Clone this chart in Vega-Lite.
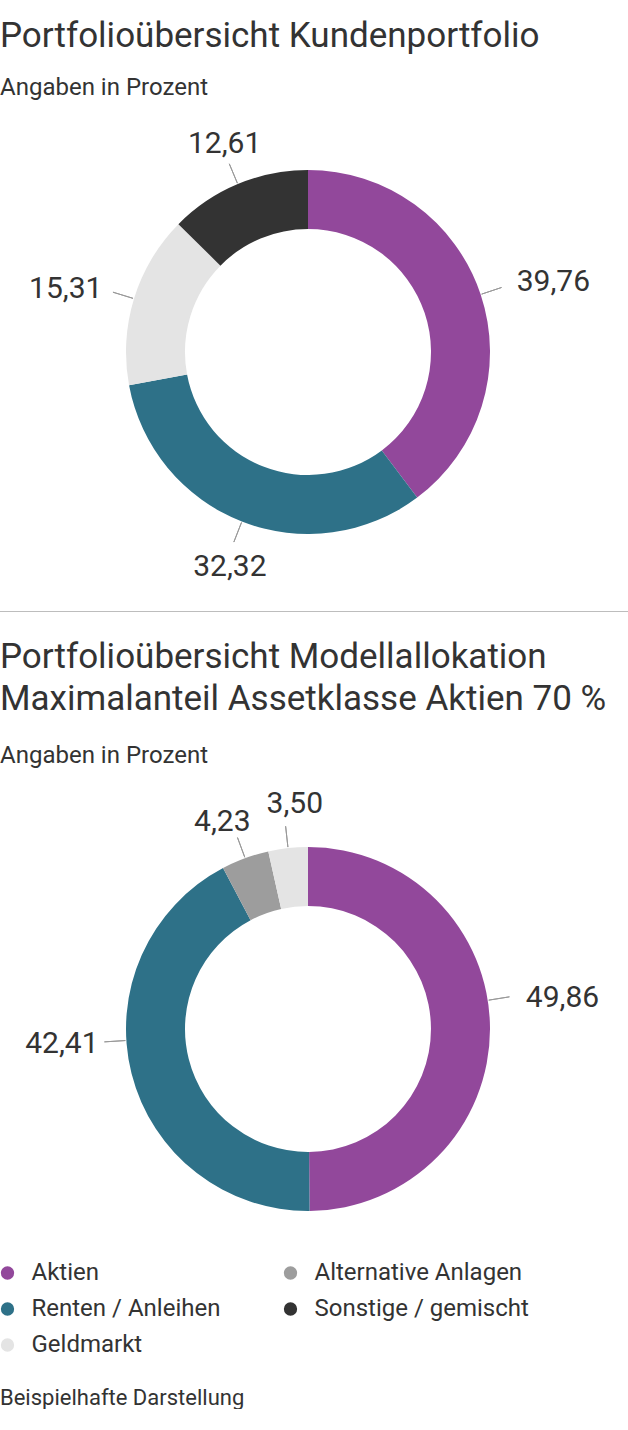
{
  "$schema": "https://vega.github.io/schema/vega-lite/v6.json",
  "background": "white",
  "padding": {"left": 0, "top": 19, "right": 0, "bottom": 0},
  "spacing": 28,
  "resolve": {"scale": {"color": "shared", "theta": "independent"}, "legend": {"color": "shared"}},
  "title": {"text": "Beispielhafte Darstellung", "orient": "bottom", "anchor": "start", "frame": "bounds", "fontSize": 22, "fontWeight": "normal", "color": "#333333", "offset": 31},
  "config": {
    "font": "Roboto",
    "view": {"stroke": null},
    "locale": {"number": {"decimal": ",", "thousands": ".", "grouping": [3], "currency": ["", " €"]}},
    "legend": {
      "orient": "none", "legendX": 0, "legendY": 1135, "columns": 2, "columnPadding": 62, "rowPadding": 12,
      "symbolType": "circle", "symbolSize": 177, "symbolStrokeWidth": 0, "symbolOffset": -4.5, "labelFontSize": 24, "labelColor": "#333333",
      "labelOffset": 12, "padding": 0, "labelLimit": 400
    }
  },
  "vconcat": [
    {
      "width": 616,
      "height": 452,
      "title": {"text": "Portfolioübersicht Kundenportfolio", "subtitle": "Angaben in Prozent", "anchor": "start", "frame": "group", "fontSize": 35, "fontWeight": "normal", "color": "#333333", "subtitleFontSize": 24, "subtitleColor": "#333333", "subtitlePadding": 22, "offset": 26},
      "data": {"values": [
        {"cat": "Aktien", "value": 39.76},
        {"cat": "Renten / Anleihen", "value": 32.32},
        {"cat": "Geldmarkt", "value": 15.31},
        {"cat": "Sonstige / gemischt", "value": 12.61}
      ]},
      "transform": [
        {"window": [{"op": "sum", "field": "value", "as": "cum"}, {"op": "row_number", "as": "idx"}], "frame": [null, 0]},
        {"calculate": "datum.cum - datum.value / 2", "as": "mid"},
        {"calculate": "datum.mid > 87.5 || datum.mid < 12.5 ? 'top' : datum.mid < 37.5 ? 'right' : datum.mid < 62.5 ? 'bottom' : 'left'", "as": "side"}
      ],
      "layer": [
        {
          "mark": {"type": "arc", "outerRadius": 182, "innerRadius": 123},
          "encoding": {
            "theta": {"field": "value", "type": "quantitative", "stack": true},
            "order": {"field": "idx", "type": "quantitative"},
            "color": {"field": "cat", "type": "nominal", "title": null,
              "scale": {"domain": ["Aktien", "Renten / Anleihen", "Geldmarkt", "Alternative Anlagen", "Sonstige / gemischt"], "range": ["#92489B", "#2E7188", "#E4E4E4", "#9D9D9D", "#333333"]}}
          }
        },
        {
          "mark": {"type": "arc", "outerRadius": 204, "innerRadius": 183, "filled": false, "color": "#999999", "strokeWidth": 1},
          "encoding": {
            "theta": {"field": "mid", "type": "quantitative", "stack": null},
            "theta2": {"field": "mid"}
          }
        },
        {
          "transform": [{"filter": "datum.side === 'right'"}],
          "mark": {"type": "text", "radius": 220, "align": "left", "baseline": "middle", "fontSize": 30, "color": "#333333"},
          "encoding": {"theta": {"field": "mid", "type": "quantitative", "stack": null}, "text": {"field": "value", "type": "quantitative", "format": ".2f"}}
        },
        {
          "transform": [{"filter": "datum.side === 'left'"}],
          "mark": {"type": "text", "radius": 215, "align": "right", "baseline": "middle", "fontSize": 30, "color": "#333333"},
          "encoding": {"theta": {"field": "mid", "type": "quantitative", "stack": null}, "text": {"field": "value", "type": "quantitative", "format": ".2f"}}
        },
        {
          "transform": [{"filter": "datum.side === 'top'"}],
          "mark": {"type": "text", "radius": 216, "align": "center", "baseline": "alphabetic", "fontSize": 30, "color": "#333333"},
          "encoding": {"theta": {"field": "mid", "type": "quantitative", "stack": null}, "text": {"field": "value", "type": "quantitative", "format": ".2f"}}
        },
        {
          "transform": [{"filter": "datum.side === 'bottom'"}],
          "mark": {"type": "text", "radius": 215, "align": "center", "baseline": "top", "fontSize": 30, "color": "#333333"},
          "encoding": {"theta": {"field": "mid", "type": "quantitative", "stack": null}, "text": {"field": "value", "type": "quantitative", "format": ".2f"}}
        }
      ]
    },
    {
      "width": 628,
      "height": 1,
      "view": {"fill": "#BDBDBD", "stroke": null},
      "data": {"values": []},
      "mark": "rule",
      "encoding": {}
    },
    {
      "width": 616,
      "height": 480,
      "title": {"text": ["Portfolioübersicht Modellallokation", "Maximalanteil Assetklasse Aktien 70 %"], "lineHeight": 42, "subtitle": "Angaben in Prozent", "anchor": "start", "frame": "group", "fontSize": 35, "fontWeight": "normal", "color": "#333333", "subtitleFontSize": 24, "subtitleColor": "#333333", "subtitlePadding": 27, "offset": 21},
      "data": {"values": [
        {"cat": "Aktien", "value": 49.86},
        {"cat": "Renten / Anleihen", "value": 42.41},
        {"cat": "Alternative Anlagen", "value": 4.23},
        {"cat": "Geldmarkt", "value": 3.50}
      ]},
      "transform": [
        {"window": [{"op": "sum", "field": "value", "as": "cum"}, {"op": "row_number", "as": "idx"}], "frame": [null, 0]},
        {"calculate": "datum.cum - datum.value / 2", "as": "mid"},
        {"calculate": "datum.mid + (datum.cat === 'Aktien' ? -2.45 : datum.cat === 'Renten / Anleihen' ? 2.93 : 0)", "as": "lead"},
        {"calculate": "datum.mid + (datum.cat === 'Aktien' ? -2.2 : datum.cat === 'Renten / Anleihen' ? 2.77 : datum.cat === 'Alternative Anlagen' ? -0.88 : datum.cat === 'Geldmarkt' ? 0.78 : 0)", "as": "lab"},
        {"calculate": "datum.lab > 87.5 || datum.lab < 12.5 ? 'top' : datum.lab < 37.5 ? 'right' : datum.lab < 62.5 ? 'bottom' : 'left'", "as": "side"}
      ],
      "layer": [
        {
          "mark": {"type": "arc", "outerRadius": 182, "innerRadius": 123},
          "encoding": {
            "theta": {"field": "value", "type": "quantitative", "stack": true},
            "order": {"field": "idx", "type": "quantitative"},
            "color": {"field": "cat", "type": "nominal", "title": null,
              "scale": {"domain": ["Aktien", "Renten / Anleihen", "Geldmarkt", "Alternative Anlagen", "Sonstige / gemischt"], "range": ["#92489B", "#2E7188", "#E4E4E4", "#9D9D9D", "#333333"]}}
          }
        },
        {
          "mark": {"type": "arc", "outerRadius": 204, "innerRadius": 183, "filled": false, "color": "#999999", "strokeWidth": 1},
          "encoding": {
            "theta": {"field": "lead", "type": "quantitative", "stack": null},
            "theta2": {"field": "lead"}
          }
        },
        {
          "transform": [{"filter": "datum.side === 'right'"}],
          "mark": {"type": "text", "radius": 220, "align": "left", "baseline": "middle", "fontSize": 30, "color": "#333333"},
          "encoding": {"theta": {"field": "lab", "type": "quantitative", "stack": null}, "text": {"field": "value", "type": "quantitative", "format": ".2f"}}
        },
        {
          "transform": [{"filter": "datum.side === 'left'"}],
          "mark": {"type": "text", "radius": 210, "align": "right", "baseline": "middle", "fontSize": 30, "color": "#333333"},
          "encoding": {"theta": {"field": "lab", "type": "quantitative", "stack": null}, "text": {"field": "value", "type": "quantitative", "format": ".2f"}}
        },
        {
          "transform": [{"filter": "datum.side === 'top'"}],
          "mark": {"type": "text", "radius": 216, "align": "center", "baseline": "alphabetic", "fontSize": 30, "color": "#333333"},
          "encoding": {"theta": {"field": "lab", "type": "quantitative", "stack": null}, "text": {"field": "value", "type": "quantitative", "format": ".2f"}}
        }
      ]
    }
  ]
}
